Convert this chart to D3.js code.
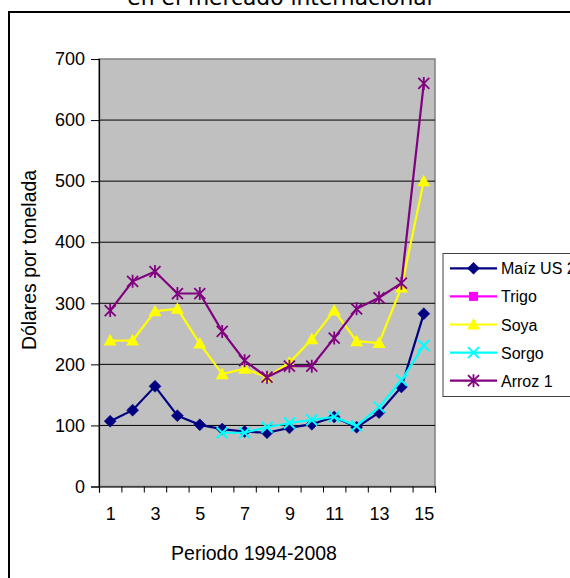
<!DOCTYPE html>
<html>
<head>
<meta charset="utf-8">
<script src="https://cdn.jsdelivr.net/npm/d3@7"></script>
<style>
  html, body { margin: 0; padding: 0; background: #fff; }
  svg { display: block; }
</style>
</head>
<body>
<svg id="chart" width="570" height="578"></svg>
<script>
// Periods 1..15 (1994-2008)
const periods = d3.range(1, 16);
const xTickLabels = [1, 3, 5, 7, 9, 11, 13, 15];
const yTicks = [0, 100, 200, 300, 400, 500, 600, 700];

// Prices in dollars per tonne (null = no data)
const maiz = [107, 125, 164, 116, 101, 94, 90, 88, 96, 102, 114, 97, 121, 163, 283];
const trigo = [];
const soya = [239, 239, 287, 291, 234, 184, 193, 179, 203, 241, 288, 238, 235, 326, 500];
const sorgo = [null, null, null, null, null, 88, 88, 97, 104, 109, 114, 99, 130, 174, 231];
const arroz = [288, 336, 352, 316, 316, 254, 206, 179, 197, 197, 243, 291, 309, 333, 660];

const seriesNames = ["Maíz US 2", "Trigo", "Soya", "Sorgo", "Arroz 1"];
const seriesValues = [maiz, trigo, soya, sorgo, arroz];
const seriesColors = ["#000080", "#FF00FF", "#FFFF00", "#00FFFF", "#800080"];
const seriesMarkers = ["diamond", "square", "triangle", "cross", "star"];

const svg = d3.select("#chart");
const font = "'Liberation Sans', Arial, sans-serif";

// Outer frame
svg.append("rect")
  .attr("x", 9).attr("y", 12).attr("width", 580).attr("height", 600)
  .attr("fill", "#fff").attr("stroke", "#000").attr("stroke-width", 2);

// Title (only its lower part fits in the frame)
svg.append("text")
  .attr("x", 280).attr("y", 5)
  .attr("text-anchor", "middle")
  .attr("font-family", "'DejaVu Sans', Verdana, sans-serif")
  .attr("font-size", 21.8)
  .attr("fill", "#000")
  .text("en el mercado internacional");

const plot = { left: 99, right: 435, top: 59, bottom: 486.5 };

const x = d3.scaleLinear().domain([0.5, 15.5]).range([plot.left, plot.right]);
const y = d3.scaleLinear().domain([0, 700]).range([plot.bottom, plot.top]);

// Plot background
svg.append("rect")
  .attr("x", plot.left).attr("y", plot.top)
  .attr("width", plot.right - plot.left).attr("height", plot.bottom - plot.top)
  .attr("fill", "#C0C0C0").attr("stroke", "#808080").attr("stroke-width", 1.5);

// Gridlines
svg.append("g")
  .selectAll("line")
  .data(yTicks.filter(d => d > 0 && d < 700))
  .join("line")
  .attr("x1", plot.left).attr("x2", plot.right)
  .attr("y1", d => y(d)).attr("y2", d => y(d))
  .attr("stroke", "#000").attr("stroke-width", 1);

// Y axis
const yAxis = svg.append("g")
  .attr("transform", `translate(${plot.left},0)`)
  .call(d3.axisLeft(y).tickValues(yTicks).tickSize(8).tickPadding(6));
yAxis.select(".domain").attr("stroke", "#000").attr("stroke-width", 1.2);
yAxis.selectAll(".tick line").attr("stroke", "#000");
yAxis.selectAll(".tick text")
  .attr("font-family", font).attr("font-size", 18).attr("fill", "#000");

// X axis: tick marks at category boundaries
const xAxisTicks = svg.append("g")
  .attr("transform", `translate(0,${plot.bottom})`)
  .call(d3.axisBottom(x).tickValues(d3.range(0.5, 16, 1)).tickSize(6).tickFormat(""));
xAxisTicks.select(".domain").attr("stroke", "#000").attr("stroke-width", 1.2);
xAxisTicks.selectAll(".tick line").attr("stroke", "#000");

// X axis labels at category centers
const xAxisLabels = svg.append("g")
  .attr("transform", `translate(0,${plot.bottom})`)
  .call(d3.axisBottom(x).tickValues(xTickLabels).tickSize(0).tickPadding(21).tickFormat(d3.format("d")));
xAxisLabels.select(".domain").remove();
xAxisLabels.selectAll(".tick text")
  .attr("font-family", font).attr("font-size", 18).attr("fill", "#000");

// Axis titles
svg.append("text")
  .attr("x", 254).attr("y", 560)
  .attr("text-anchor", "middle")
  .attr("font-family", font).attr("font-size", 19.5)
  .text("Periodo 1994-2008");

svg.append("text")
  .attr("transform", "translate(36,260) rotate(-90)")
  .attr("text-anchor", "middle")
  .attr("font-family", font).attr("font-size", 19.4)
  .text("Dólares por tonelada");

// Marker drawing
function drawMarker(g, type, color) {
  if (type === "diamond") {
    g.append("path").attr("d", "M0,-6L6,0L0,6L-6,0Z").attr("fill", color).attr("stroke", color).attr("stroke-width", 0.5);
  } else if (type === "square") {
    g.append("rect").attr("x", -4.5).attr("y", -4.5).attr("width", 9).attr("height", 9).attr("fill", color);
  } else if (type === "triangle") {
    g.append("path").attr("d", "M0,-6.5L6.5,5L-6.5,5Z").attr("fill", color);
  } else if (type === "cross") {
    g.append("path").attr("d", "M-5.5,-5.5L5.5,5.5M-5.5,5.5L5.5,-5.5").attr("stroke", color).attr("stroke-width", 2).attr("fill", "none");
  } else if (type === "star") {
    g.append("path").attr("d", "M-5.5,-5.5L5.5,5.5M-5.5,5.5L5.5,-5.5M0,-6.5L0,6.5").attr("stroke", color).attr("stroke-width", 1.8).attr("fill", "none");
  }
}

const line = d3.line()
  .defined(d => d.v != null)
  .x(d => x(d.p))
  .y(d => y(d.v));

seriesValues.forEach((vals, i) => {
  const pts = vals.map((v, j) => ({ p: periods[j], v }));
  const g = svg.append("g");
  g.append("path")
    .datum(pts)
    .attr("d", line)
    .attr("fill", "none")
    .attr("stroke", seriesColors[i])
    .attr("stroke-width", 2.2);
  pts.filter(d => d.v != null).forEach(d => {
    drawMarker(g.append("g").attr("transform", `translate(${x(d.p)},${y(d.v)})`), seriesMarkers[i], seriesColors[i]);
  });
});

// Legend
const legend = svg.append("g");
legend.append("rect")
  .attr("x", 443).attr("y", 253.5).attr("width", 140).attr("height", 143)
  .attr("fill", "#fff").attr("stroke", "#404040").attr("stroke-width", 1);

seriesNames.forEach((name, i) => {
  const ly = 268.3 + i * 28.1;
  const row = legend.append("g");
  row.append("line")
    .attr("x1", 450).attr("x2", 497).attr("y1", ly).attr("y2", ly)
    .attr("stroke", seriesColors[i]).attr("stroke-width", 2.2);
  drawMarker(row.append("g").attr("transform", `translate(473.5,${ly})`), seriesMarkers[i], seriesColors[i]);
  row.append("text")
    .attr("x", 501).attr("y", ly + 6)
    .attr("font-family", font).attr("font-size", 16)
    .text(name);
});
</script>
</body>
</html>
